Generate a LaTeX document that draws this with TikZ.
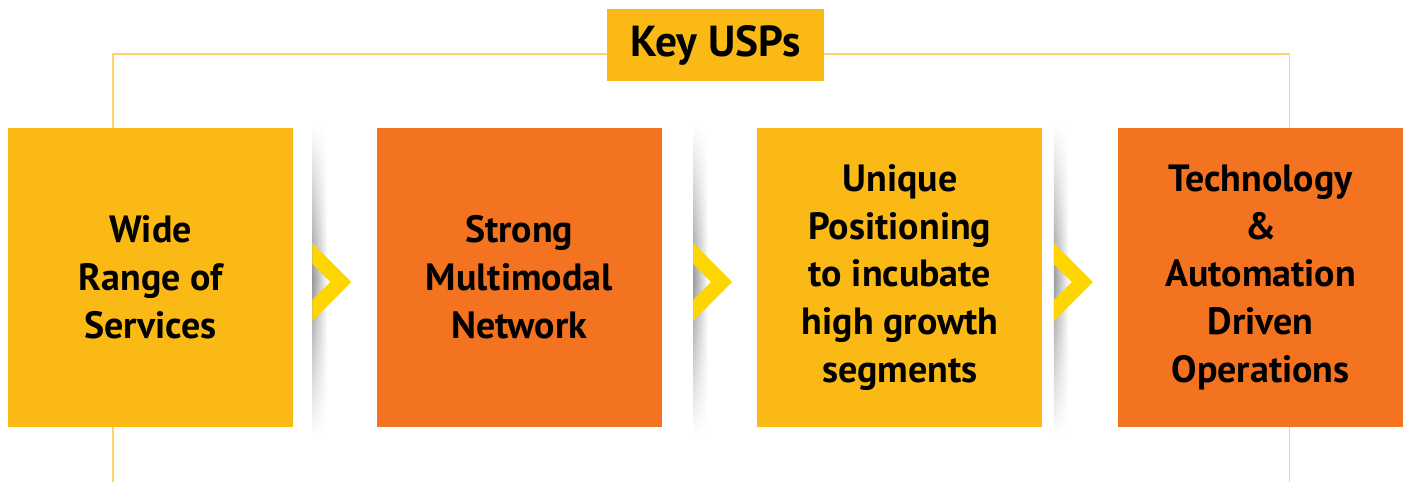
\documentclass[tikz,border=0pt]{standalone}
\usepackage{fontspec}
\setmainfont{PT Sans}
\usetikzlibrary{positioning, fadings}
\definecolor{uspyellow}{HTML}{FBB915}
\definecolor{usporange}{HTML}{F37321}
\definecolor{usplink}{HTML}{FDD36A}
\definecolor{uspgold}{HTML}{FDD500}
\newcommand{\boxwidth}{5.7cm}
\newcommand{\boxheight}{5.98cm}
\tikzfading[name=fade ends, top color=transparent!100, bottom color=transparent!100, middle color=transparent!0]
% shadow strip and chevron in front of a box (#1 = name of the box)
\newcommand{\chevronbefore}[1]{
        \shade[left color=black!40, right color=white, path fading=fade ends]
        ([xshift=-1.28cm, yshift=0.05cm]#1.north west) rectangle ([xshift=-0.98cm, yshift=-0.15cm]#1.south west);
        \fill[uspgold] ([xshift=-1.28cm, yshift=-0.09cm]#1.west) ++(0,0.78) -- ++(0.78,-0.78)
        -- ++(-0.78,-0.78) -- ++(0,0.42) -- ++(0.36,0.36) -- ++(-0.36,0.36) -- cycle;
}

\begin{document}
\begin{tikzpicture}[
        uspbox/.style={minimum width=\boxwidth, minimum height=\boxheight, inner sep=0pt,
        align=center, font=\bfseries\fontsize{21.6}{27.3}\selectfont},
        link/.style={usplink, line width=1.1pt}
    ]
        \useasboundingbox (0,0) rectangle (28.14,-9.64);
        \node[uspbox, fill=uspyellow] (range) at (3.01,-5.55) {Wide\\Range of\\Services};
        \node[uspbox, fill=usporange, right=1.66cm of range] (network) {Strong\\Multimodal\\Network};
        \node[uspbox, fill=uspyellow, right=1.9cm of network] (position) {Unique\\Positioning\\to incubate\\high growth\\segments};
        \node[uspbox, fill=usporange, right=1.5cm of position] (tech) {Technology\\\&\\Automation\\Driven\\Operations};
        \node[fill=uspyellow, minimum width=4.34cm, minimum height=1.44cm, inner sep=0pt,
        font=\bfseries\fontsize{24.7}{30}\selectfont] (usps) at (14.31,-0.9) {Key USPs};

        % bracket round the boxes
        \coordinate (leftfoot) at ([xshift=2.1cm]range.west |- 0,-9.64);
        \coordinate (rightfoot) at ([xshift=-2.28cm]tech.east |- 0,-9.64);
        \draw[link] ([xshift=2.1cm]range.north west) |- ([yshift=-0.18cm]usps.west);
        \draw[link] ([yshift=-0.18cm]usps.east) -| ([xshift=-2.28cm]tech.north east);
        \draw[link] ([xshift=2.1cm]range.south west) -- (leftfoot);
        \draw[link] ([xshift=-2.28cm]tech.south east) -- (rightfoot);

        \chevronbefore{network}
        \chevronbefore{position}
        \chevronbefore{tech}
    \end{tikzpicture}
\end{document}
